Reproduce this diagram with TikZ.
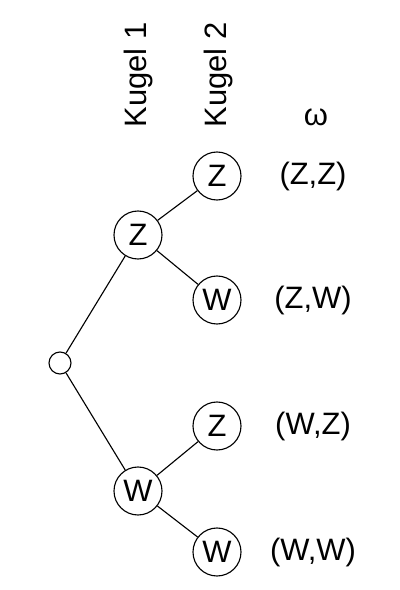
\documentclass[tikz,border=0pt]{standalone}
\usepackage{fontspec}
\setmainfont{Liberation Sans}
\usepackage{tikz}

\begin{document}
\begin{tikzpicture}[x=1cm,y=1cm,
    every node/.style={font=\fontsize{22}{26}\selectfont},
    knoten/.style={circle,draw,line width=0.8pt,minimum size=1.2cm,inner sep=0pt},
    wurzel/.style={circle,draw,line width=0.8pt,minimum size=0.55cm,inner sep=0pt},
    ast/.style={line width=0.8pt}]
  \useasboundingbox (-1.5,-5.675) rectangle (8.5,9.075);
  %% Baum
  \node[wurzel] (S) at (0,0) {};
  \node[knoten] (Z) at (1.95,3.2) {Z};
  \node[knoten] (W) at (1.95,-3.2) {W};
  \node[knoten] (ZZ) at (3.925,4.675) {Z};
  \node[knoten] (ZW) at (3.925,1.575) {W};
  \node[knoten] (WZ) at (3.925,-1.575) {Z};
  \node[knoten] (WW) at (3.925,-4.725) {W};
  \draw[ast] (S) -- (Z);
  \draw[ast] (S) -- (W);
  \draw[ast] (Z) -- (ZZ);
  \draw[ast] (Z) -- (ZW);
  \draw[ast] (W) -- (WZ);
  \draw[ast] (W) -- (WW);
  %% Ergebnisse
  \node (omega) at (6.4,6.15) {ω};
  \node (eZZ) at (6.325,4.675) {(Z,Z)};
  \node (eZW) at (6.325,1.575) {(Z,W)};
  \node (eWZ) at (6.325,-1.575) {(W,Z)};
  \node (eWW) at (6.325,-4.725) {(W,W)};
  %% Stufen
  \node[rotate=90] (K1) at (1.97,7.2) {Kugel 1};
  \node[rotate=90] (K2) at (3.97,7.2) {Kugel 2};
\end{tikzpicture}
\end{document}
